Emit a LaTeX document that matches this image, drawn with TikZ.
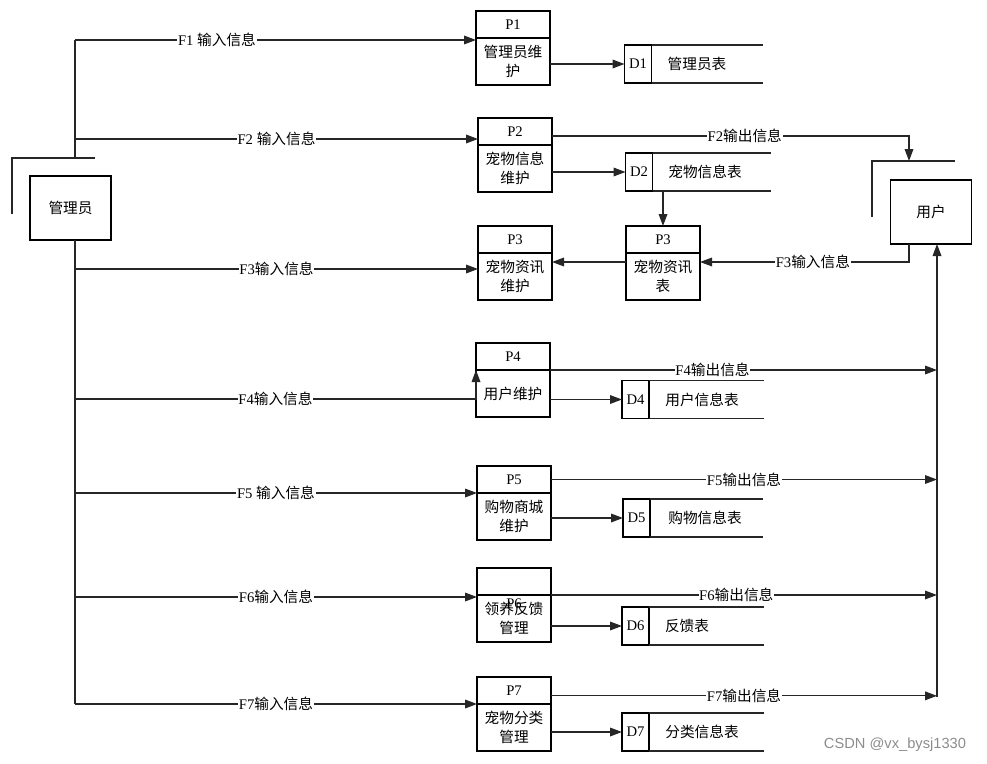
\documentclass[tikz,border=0pt]{standalone}
\usepackage{fontspec}
\setmainfont{Liberation Serif}
\newfontfamily\cjk{Noto Sans CJK SC}
\newfontfamily\wmfont{Liberation Sans}
\usetikzlibrary{arrows.meta}

\begin{document}
\begin{tikzpicture}[
        x=0.75pt, y=-0.75pt,
        every node/.style={font=\fontsize{11}{14}\selectfont},
        line/.style={line width=0.9pt, draw=black!85},
        flow/.style={line, -{Triangle[length=9pt,width=6.5pt]}},
        head/.style={draw, line width=0.9pt, outer sep=0pt, minimum width=55.5pt, minimum height=20.25pt, inner sep=0pt},
        body/.style={draw, line width=0.9pt, outer sep=0pt, minimum width=55.5pt, minimum height=35.25pt, inner sep=0pt,
                align=center, anchor=north, font=\fontsize{11}{14}\cjk},
        idcell/.style={draw, line width=0.9pt, outer sep=0pt, minimum width=20.25pt, minimum height=28.5pt, inner sep=0pt},
        entity/.style={draw, line width=0.9pt, outer sep=0pt, minimum width=60.75pt, minimum height=48pt, font=\fontsize{11}{14}\cjk},
        lbl/.style={fill=white, inner sep=0.5pt}
    ]
    \useasboundingbox (0,0) rectangle (987,763);

    % external entities
    \node[entity] (mgr) at (70.5,208) {管理员};
    \draw[line] (12,214) -- (12,158) -- (95,158);
    \node[entity] (usr) at (931,212) {用户};
    \draw[line] (872,217) -- (872,161) -- (955,161);

    % processes
    \node[head] (p1h) at (513,24.5) {P1};
    \node[body] (p1b) at (p1h.south) {管理员维\\护};
    \node[head] (p2h) at (515,131.5) {P2};
    \node[body] (p2b) at (p2h.south) {宠物信息\\维护};
    \node[head] (p3h) at (515,239.5) {P3};
    \node[body] (p3b) at (p3h.south) {宠物资讯\\维护};
    \node[head] (p4h) at (513,356.5) {P4};
    \node[body] (p4b) at (p4h.south) {用户维护};
    \node[head] (p5h) at (514,479.5) {P5};
    \node[body] (p5b) at (p5h.south) {购物商城\\维护};
    \node[head] (p6h) at (514,581.5) {};
    \node[body] (p6b) at (p6h.south) {领养反馈\\管理};
    \node (p6t) at (514,604) {P6};
    \node[head] (p7h) at (514,690.5) {P7};
    \node[body] (p7b) at (p7h.south) {宠物分类\\管理};
    \node[head] (qh) at (663,239.5) {P3};
    \node[body] (qb) at (qh.south) {宠物资讯\\表};

    % data stores
    \node[idcell] (d1) at (638,64) {D1};
    \node (d1n) at (697,64) {\cjk 管理员表};
    \draw[line] (d1.north east) -- ++(111,0);
    \draw[line] (d1.south east) -- ++(111,0);
    \node[idcell] (d2) at (639,172) {D2};
    \node (d2n) at (705,172) {\cjk 宠物信息表};
    \draw[line] (d2.north east) -- ++(118,0);
    \draw[line] (d2.south east) -- ++(118,0);
    \node[idcell] (d4) at (635.5,399.5) {D4};
    \node (d4n) at (702,399.5) {\cjk 用户信息表};
    \draw[line] (d4.north east) -- ++(115,0);
    \draw[line] (d4.south east) -- ++(115,0);
    \node[idcell] (d5) at (636.5,518) {D5};
    \node (d5n) at (705,518) {\cjk 购物信息表};
    \draw[line] (d5.north east) -- ++(113,0);
    \draw[line] (d5.south east) -- ++(113,0);
    \node[idcell] (d6) at (635.5,626) {D6};
    \node (d6n) at (687,626) {\cjk 反馈表};
    \draw[line] (d6.north east) -- ++(115,0);
    \draw[line] (d6.south east) -- ++(115,0);
    \node[idcell] (d7) at (635.5,732) {D7};
    \node (d7n) at (702,732) {\cjk 分类信息表};
    \draw[line] (d7.north east) -- ++(115,0);
    \draw[line] (d7.south east) -- ++(115,0);

    % manager trunk
    \coordinate (t0) at (75,158);
    \coordinate (t1) at (75,40);
    \coordinate (t2) at (75,139);
    \coordinate (t3) at (75,269);
    \coordinate (t4) at (75,399);
    \coordinate (t5) at (75,493);
    \coordinate (t6) at (75,597);
    \coordinate (t7) at (75,704);
    \draw[line] (t0) -- (t1);
    \draw[line] (mgr.south -| t7) -- (t7);

    \draw[flow] (t1) -- node[lbl,pos=0.354] {F1 {\cjk 输入信息}} (t1 -| p1h.west);
    \draw[flow] (t2) -- node[lbl] {F2 {\cjk 输入信息}} (t2 -| p2h.west);
    \draw[flow] (t3) -- node[lbl] {F3{\cjk 输入信息}} (t3 -| p3b.west);
    \draw[flow] (t4) -| node[lbl,pos=0.25] {F4{\cjk 输入信息}} (p4b.north west);
    \draw[flow] (t5) -- node[lbl] {F5 {\cjk 输入信息}} (t5 -| p5h.west);
    \draw[flow] (t6) -- node[lbl] {F6{\cjk 输入信息}} (t6 -| p6b.west);
    \draw[flow] (t7) -- node[lbl] {F7{\cjk 输入信息}} (t7 -| p7b.west);

    % processes to stores
    \draw[flow] (p1b.east |- d1.west) -- (d1.west);
    \draw[flow] (p2b.east |- d2.west) -- (d2.west);
    \draw[flow] (p4b.east |- d4.west) -- (d4.west);
    \draw[flow] (p5b.east |- d5.west) -- (d5.west);
    \draw[flow] (p6b.east |- d6.west) -- (d6.west);
    \draw[flow] (p7b.east |- d7.west) -- (d7.west);
    \draw[flow] (qh.north |- d2.south) -- (qh.north);
    \draw[flow] ([yshift=-6.75pt]qb.north west) -- ([yshift=-6.75pt]p3b.north east);

    % user side
    \coordinate (u2) at (909,161);
    \coordinate (rb) at (937,697);
    \draw[flow] (rb) -- (rb |- usr.south);
    \draw[flow] ([yshift=-3.4pt]p2h.east) -| node[lbl,pos=0.27] {F2{\cjk 输出信息}} (u2);
    \draw[flow] (usr.south -| u2) |- node[lbl,pos=0.73] {F3{\cjk 输入信息}} ([yshift=-6.75pt]qb.north east);
    \draw[flow] (p4b.north east) -- node[lbl,pos=0.42] {F4{\cjk 输出信息}} (p4b.north east -| rb);
    \draw[flow] (p5h.east) -- node[lbl] {F5{\cjk 输出信息}} (p5h.east -| rb);
    \draw[flow] (p6b.north east) -- node[lbl,pos=0.48] {F6{\cjk 输出信息}} (p6b.north east -| rb);
    \draw[flow] ([yshift=-4pt]p7h.east) -- node[lbl] {F7{\cjk 输出信息}} ([yshift=-4pt]p7h.east -| rb);

    \node[font=\wmfont\fontsize{11}{13}\selectfont, text=black!45] (wm) at (895,745) {CSDN @vx\_bysj1330};
\end{tikzpicture}
\end{document}
